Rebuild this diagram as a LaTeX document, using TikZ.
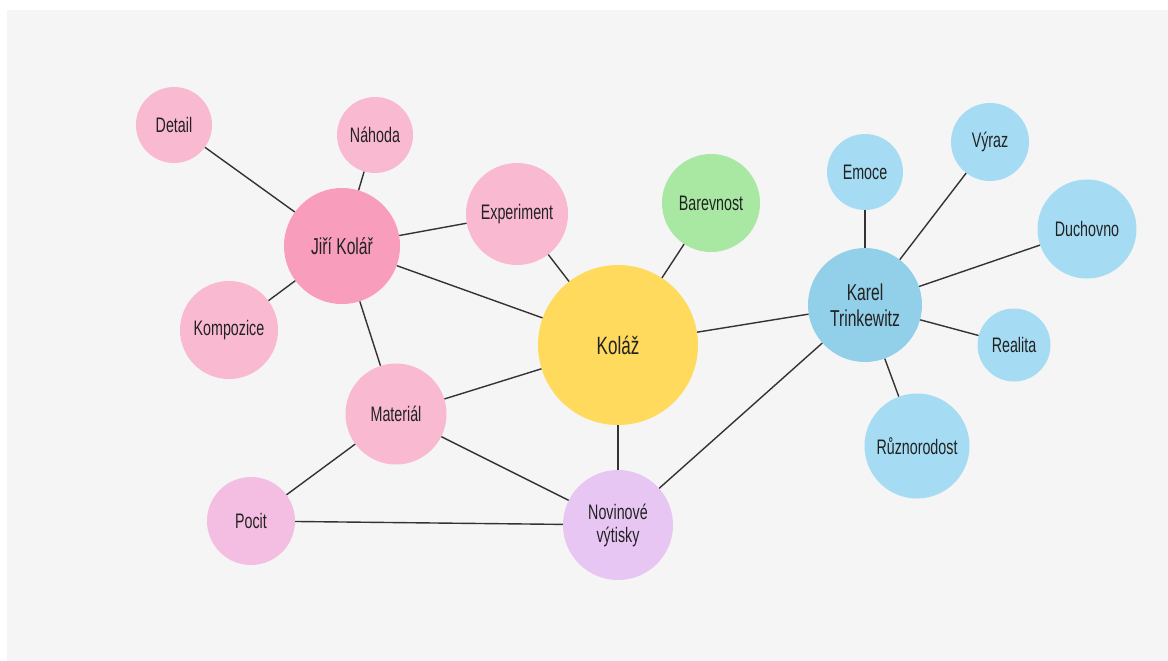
\documentclass[tikz,border=0pt]{standalone}
\usepackage{fontspec}
\setmainfont{Liberation Sans}[FakeStretch=0.68]
\usepackage{tikz}
\definecolor{bgback}{HTML}{F5F5F5}
\definecolor{linec}{HTML}{333333}
\definecolor{pinkd}{HTML}{F99DBD}
\definecolor{pinkl}{HTML}{F9B9D0}
\definecolor{lilacp}{HTML}{F4BEE2}
\definecolor{lilac}{HTML}{E8C6F3}
\definecolor{yellowc}{HTML}{FFDA5C}
\definecolor{greenc}{HTML}{A8E8A2}
\definecolor{blued}{HTML}{92CFE9}
\definecolor{bluel}{HTML}{A5DCF4}
\definecolor{textc}{HTML}{222222}
\tikzset{
  bub/.style={circle,draw=none,inner sep=0pt,align=center,text=textc,font=\fontsize{21}{23}\selectfont},
  link/.style={draw=linec,line width=1.4pt},
}
\begin{document}
\begin{tikzpicture}[x=1pt,y=-1pt]
  \fill[white] (0,0) rectangle (1168,661);
  \fill[bgback] (7,10) rectangle (1168,661);
  \useasboundingbox (0,0) rectangle (1168,661);
  % hubs
  \node[bub,fill=yellowc,minimum size=160pt,font=\fontsize{25}{27}\selectfont] (kolaz) at (618,345) {Koláž};
  \node[bub,fill=pinkd,minimum size=116pt,font=\fontsize{23}{25}\selectfont] (kolar) at (342,246) {Jiří Kolář};
  \node[bub,fill=blued,minimum size=114pt,font=\fontsize{23}{26}\selectfont] (karel) at (865,305) {Karel\\Trinkewitz};
  % pink
  \node[bub,fill=pinkl,minimum size=76pt] (detail) at (174,125) {Detail};
  \node[bub,fill=pinkl,minimum size=76pt] (nahoda) at (375,135) {Náhoda};
  \node[bub,fill=pinkl,minimum size=102pt] (experiment) at (517,214) {Experiment};
  \node[bub,fill=pinkl,minimum size=98pt] (kompozice) at (229,330) {Kompozice};
  \node[bub,fill=pinkl,minimum size=101pt] (material) at (396,414) {Materiál};
  \node[bub,fill=lilacp,minimum size=88pt] (pocit) at (251,521) {Pocit};
  \node[bub,fill=lilac,minimum size=110pt] (noviny) at (618,525) {Novinové\\výtisky};
  \node[bub,fill=greenc,minimum size=98pt] (barevnost) at (711,203) {Barevnost};
  % blue
  \node[bub,fill=bluel,minimum size=76pt] (emoce) at (865,172) {Emoce};
  \node[bub,fill=bluel,minimum size=78pt] (vyraz) at (990,142) {Výraz};
  \node[bub,fill=bluel,minimum size=99pt] (duchovno) at (1087,229) {Duchovno};
  \node[bub,fill=bluel,minimum size=73pt] (realita) at (1014,345) {Realita};
  \node[bub,fill=bluel,minimum size=105pt] (ruznorodost) at (917,446) {Různorodost};
  % links
  \foreach \a/\b in {kolar/detail,kolar/nahoda,kolar/kompozice,kolar/experiment,
      kolar/kolaz,kolar/material,experiment/kolaz,barevnost/kolaz,material/kolaz,
      kolaz/noviny,kolaz/karel,material/noviny,material/pocit,pocit/noviny,
      noviny/karel,karel/emoce,karel/vyraz,karel/duchovno,karel/realita,karel/ruznorodost}
    \path[link] (\a) -- (\b);
\end{tikzpicture}
\end{document}
